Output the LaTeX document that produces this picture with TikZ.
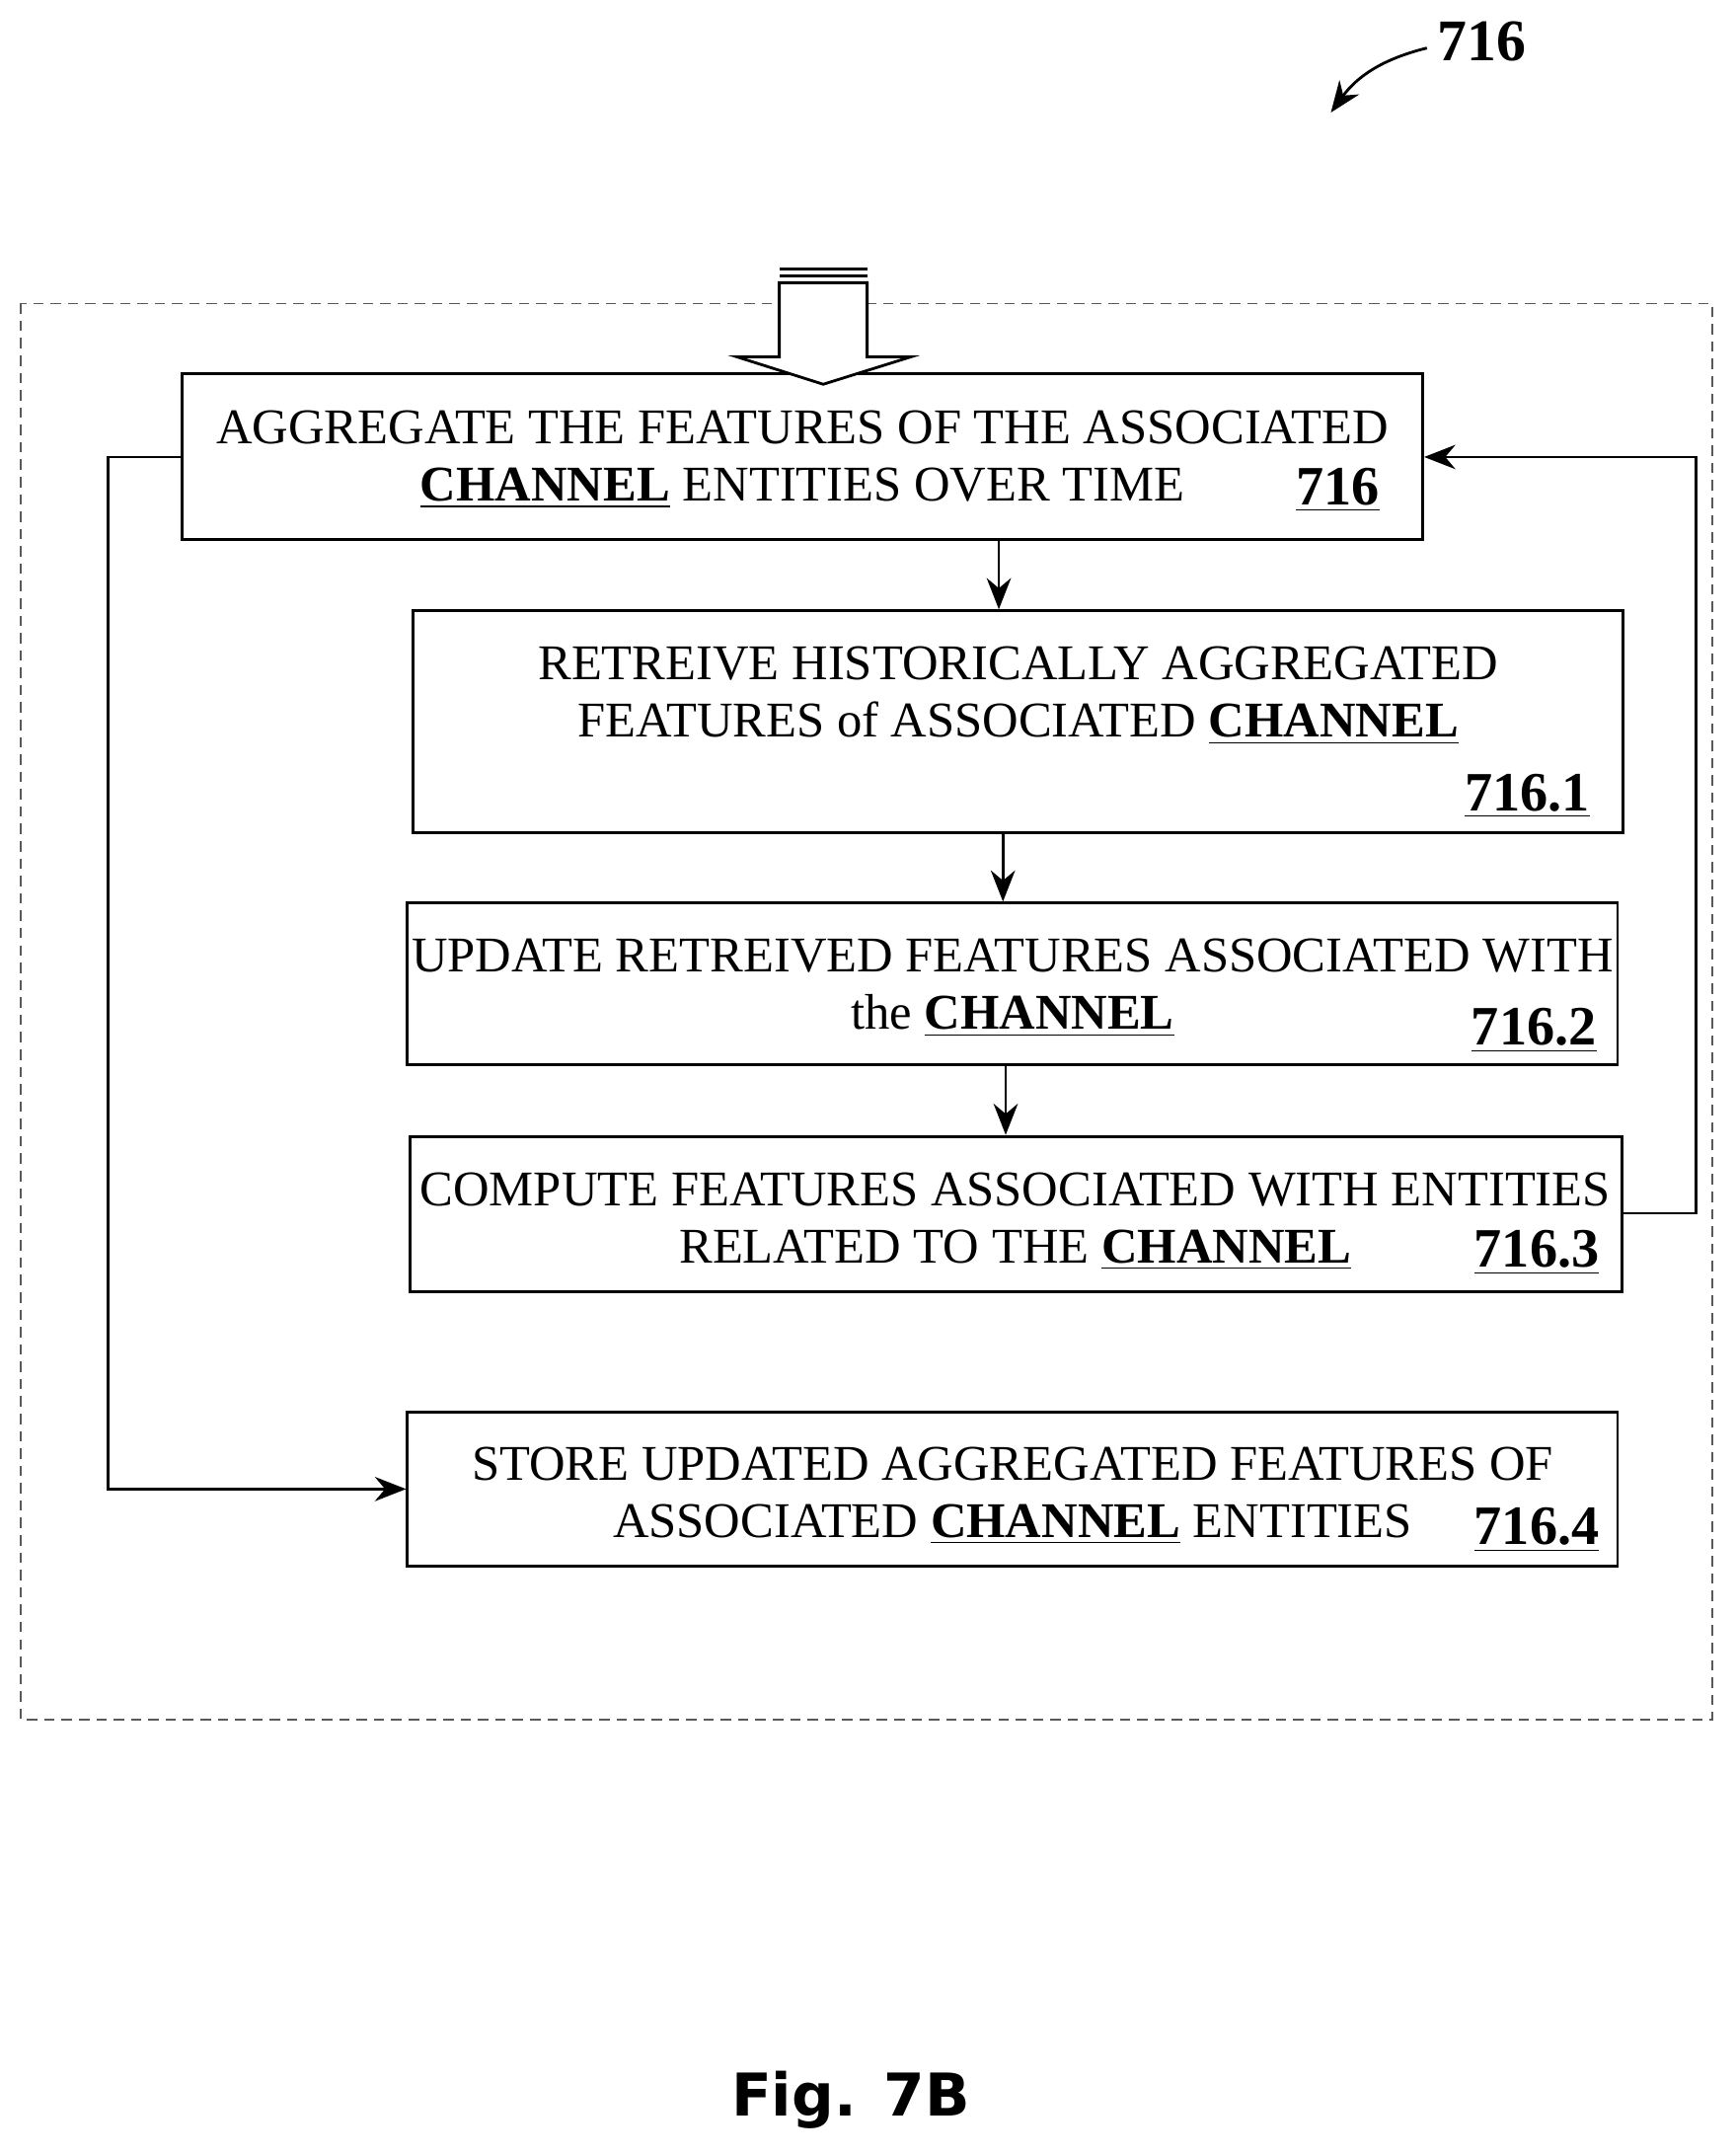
\documentclass[tikz,border=0pt]{standalone}
\usepackage{fontspec}
\setmainfont{Liberation Serif}
\newfontfamily\figfont{DejaVu Sans}
\usetikzlibrary{fit,arrows.meta}

\begin{document}
\begin{tikzpicture}[x=0.013905cm,y=-0.013905cm,thick,
  box/.style={draw,inner sep=0pt},
  txt/.style={font=\fontsize{14.4}{16.5}\selectfont,align=center},
  num/.style={font=\fontsize{16}{18}\selectfont\bfseries},
  flow/.style={-{Stealth[length=9pt,width=7pt]}}]
  \useasboundingbox (0,0) rectangle (1265,1571);
  % frame
  \draw[densely dashed,thin,gray!70!black] (15,221) rectangle (1248,1253);
  % boxes
  \node[box,fit={(133,272) (1037,393)}] (agg) {};
  \node[box,fit={(301,445) (1183,607)}] (retr) {};
  \node[box,fit={(297,658) (1179,776)}] (upd) {};
  \node[box,fit={(299,828) (1182,941)}] (comp) {};
  \node[box,fit={(297,1029) (1179,1141)}] (store) {};
  % texts
  \node[txt] (t0) at (585,335) {AGGREGATE THE FEATURES OF THE ASSOCIATED\\
    \textbf{\underline{CHANNEL}} ENTITIES OVER TIME\hspace{5em}};
  \node[num] (n0) at (975,357) {\underline{716}};
  \node[txt] (t1) at (742,507) {RETREIVE HISTORICALLY AGGREGATED\\
    FEATURES of ASSOCIATED \textbf{\underline{CHANNEL}}};
  \node[num] (n1) at (1113,580) {\underline{716.1}};
  \node[txt] (t2) at (738,720) {UPDATE RETREIVED FEATURES ASSOCIATED WITH\\
    the \textbf{\underline{CHANNEL}}};
  \node[num] (n2) at (1118,751) {\underline{716.2}};
  \node[txt] (t3) at (740,890) {COMPUTE FEATURES ASSOCIATED WITH ENTITIES\\
    RELATED TO THE \textbf{\underline{CHANNEL}}\hspace{5em}};
  \node[num] (n3) at (1120,913) {\underline{716.3}};
  \node[txt] (t4) at (738,1090) {STORE UPDATED AGGREGATED FEATURES OF\\
    ASSOCIATED \textbf{\underline{CHANNEL}} ENTITIES\hspace{2.5em}};
  \node[num] (n4) at (1120,1115) {\underline{716.4}};
  % connectors
  \draw[flow] (agg.south -| 728,0) -- (retr.north -| 728,0);
  \draw[flow] (retr.south -| 731,0) -- (upd.north -| 731,0);
  \draw[flow] (upd.south -| 733,0) -- (comp.north -| 733,0);
  \draw[flow] (comp.east |- 0,884) -- (1236,884) -- (1236,333) -- (agg.east |- 0,333);
  \draw[flow] (agg.west |- 0,333) -- (79,333) -- (79,1085) -- (store.west |- 0,1085);
  % block arrow in
  \draw[fill=white] (568,206) -- (568,260) -- (537,260) -- (600,280) -- (664,260)
    -- (632,260) -- (632,206) -- cycle;
  \draw (568,196) -- (632,196) (568,201) -- (632,201);
  % reference label
  \node[font=\fontsize{17}{19}\selectfont\bfseries] (ref) at (1080,30) {716};
  \draw[-{Stealth[length=9pt,width=7pt]}] (1040,35) to[bend right=20] (970,82);
  \node[font=\figfont\fontsize{17}{19}\selectfont\bfseries] (fig) at (620,1530) {Fig. 7B};
\end{tikzpicture}
\end{document}
